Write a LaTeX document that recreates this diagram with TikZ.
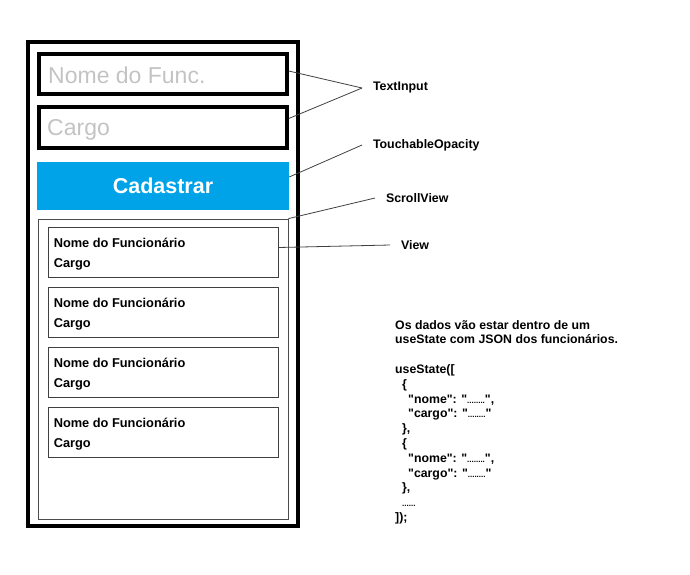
\documentclass[tikz,border=0pt]{standalone}
\usepackage{fontspec}
\setmainfont{Liberation Sans}
\newfontfamily\notefont{Liberation Sans}
\usepackage{tikz}
\usetikzlibrary{positioning}
\definecolor{btnblue}{HTML}{00A2E8}
\definecolor{hint}{HTML}{C3C3C3}
\newcommand{\smalldots}[1]{{\fontsize{8}{8}\selectfont #1}}

\begin{document}
\begin{tikzpicture}[
  x=1pt, y=-1pt,
  dep/.style ={
    line width=0.8pt, draw=black!75
  },
  phone/.style={
    draw, line width=4.5pt,
    minimum width=270pt,
    minimum height=484pt},
  field/.style={
    draw, line width=3.5pt,
    minimum width=248pt,
    minimum height=#1},
  hinttxt/.style={
    text=hint, inner sep=0pt,
    font=\fontsize{23}{23}\selectfont},
  btn/.style={
    fill=btnblue, text=white,
    minimum width=252pt,
    minimum height=48pt,
    font=\bfseries\fontsize{21.5}{21.5}\selectfont},
  scroll/.style={
    draw=black!70, line width=0.8pt,
    minimum width=250pt,
    minimum height=300pt},
  item/.style={
    draw=black!75, line width=0.8pt,
    minimum width=230pt,
    minimum height=50pt},
  itemtxt/.style={
    align=left, inner sep=0pt,
    font=\bfseries\fontsize{12.8}{20}\selectfont},
  lbl/.style={
    anchor=west, inner sep=4pt, outer sep=7pt,
    font=\bfseries\fontsize{12.4}{14}\selectfont},
  note/.style={
    align=left, inner sep=0pt,
    font=\notefont\bfseries\fontsize{12.3}{14.8}\selectfont},
]

  \useasboundingbox (0,0) rectangle (690,574);

  \def\itembase{252.5}%
  \def\itemstep{60}%

  % Phone screen
  \node[phone] (app) at (162.75,284) {};

  % Input fields
  \node[field={40pt}] (f1) at (163,74) {};
  \node[hinttxt, anchor=base west] at (48,83.3) {Nome do Func.};
  \node[field={41pt}] (f2) at (163,127.5) {};
  \node[hinttxt, anchor=base west] at (47,135.3) {Cargo};

  % Button
  \node[btn] (btn) at (163,186) {Cadastrar};

  % List of employees
  \node[scroll] (scroll) at (163,369) {};
  \foreach \i in {1,...,4} {
    \node[item] (v\i) at (163, \itembase + \itemstep*\i - \itemstep) {};
    \node[itemtxt, anchor=west] at ([xshift=6pt,yshift=-1.5pt]v\i.west)
        {Nome do Funcionário\\Cargo};
  }

  % Component names
  \node[lbl] (l_text) at (362,88) {TextInput};
  \node[lbl] (l_touch) at (362,145) {TouchableOpacity};
  \node[lbl] (l_scroll) at (375,198) {ScrollView};
  \node[lbl] (l_view) at (390,245) {View};

  \draw[dep] ([yshift=3pt]f1.east) -- (l_text.west);
  \draw[dep] ([yshift=9pt]f2.east) -- (l_text.west);
  \draw[dep] ([yshift=9pt]btn.east) -- (l_touch.west);
  \draw[dep] (scroll.north east) -- (l_scroll.west);
  \draw[dep] ([yshift=5pt]v1.east) -- (l_view.west);

  % State note
  \node[note, anchor=north west] (note) at (395,320) {%
    Os dados vão estar dentro de um\\
    useState com JSON dos funcionários.\\
    \mbox{}\\
    useState([\\
    \hspace*{7pt}\{\\
    \hspace*{13pt}"nome": "\smalldots{........}",\\
    \hspace*{13pt}"cargo": "\smalldots{........}"\\
    \hspace*{7pt}\},\\
    \hspace*{7pt}\{\\
    \hspace*{13pt}"nome": "\smalldots{........}",\\
    \hspace*{13pt}"cargo": "\smalldots{........}"\\
    \hspace*{7pt}\},\\
    \hspace*{7pt}\smalldots{......}\\
    ]);};

\end{tikzpicture}
\end{document}
